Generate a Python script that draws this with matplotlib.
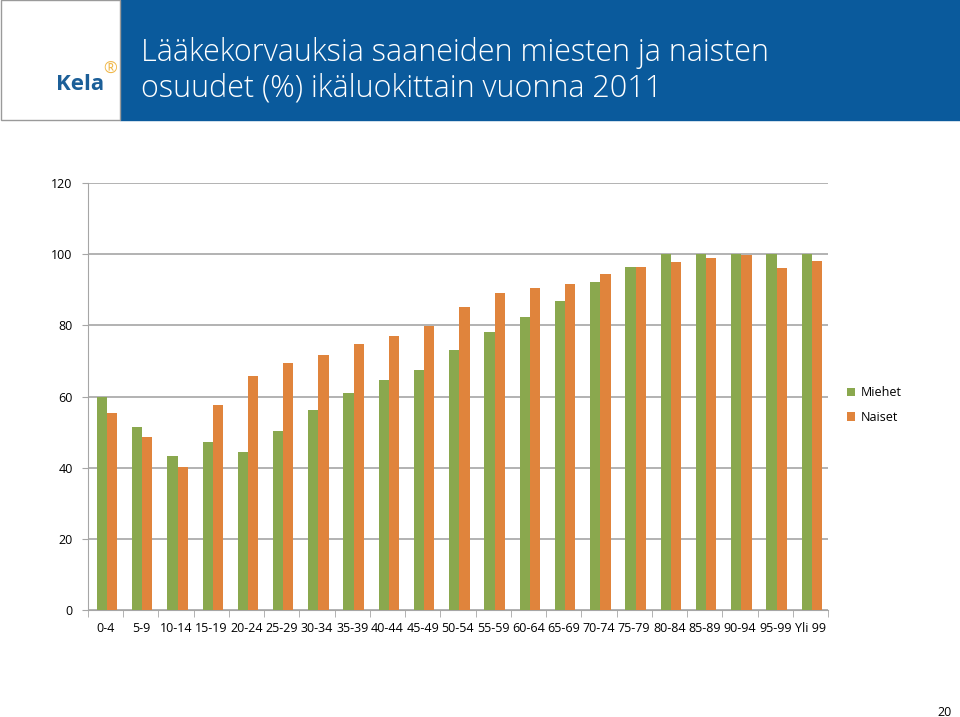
import numpy as np
import matplotlib.pyplot as plt
from matplotlib.patches import Rectangle

# ------------------------------------------------------------
# data
# ------------------------------------------------------------
age_groups = ["0-4", "5-9", "10-14", "15-19", "20-24", "25-29", "30-34",
              "35-39", "40-44", "45-49", "50-54", "55-59", "60-64", "65-69",
              "70-74", "75-79", "80-84", "85-89", "90-94", "95-99", "Yli 99"]
miehet = [60.0, 51.4, 43.2, 47.1, 44.4, 50.3, 56.1, 61.0, 64.7, 67.5, 73.0,
          78.1, 82.4, 86.9, 92.3, 96.4, 100.0, 100.0, 100.0, 100.0, 100.0]
naiset = [55.5, 48.5, 40.3, 57.6, 65.8, 69.5, 71.8, 74.7, 77.0, 79.9, 85.1,
          89.1, 90.4, 91.6, 94.5, 96.4, 97.8, 98.8, 99.8, 96.2, 98.0]
y_ticks = [0, 20, 40, 60, 80, 100, 120]

title_lines = ["Lääkekorvauksia saaneiden miesten ja naisten",
               "osuudet (%) ikäluokittain vuonna 2011"]

green = "#8aa84e"
orange = "#e0843c"
blue = "#0a5a9c"
grid_col = "#a6a6a6"

plt.rcParams["font.family"] = ["Open Sans", "DejaVu Sans"]

fig = plt.figure(figsize=(9.6, 7.17), dpi=100)

# ------------------------------------------------------------
# header
# ------------------------------------------------------------
fig.patches.append(Rectangle((120 / 960, 1 - 120 / 717), 840 / 960, 120 / 717,
                             transform=fig.transFigure, color=blue, zorder=0))
fig.patches.append(Rectangle((0.5 / 960, 1 - 119.5 / 717), 119 / 960, 119 / 717,
                             transform=fig.transFigure, facecolor="white",
                             edgecolor="#9a9a9a", lw=1, zorder=0))
for i, line in enumerate(title_lines):
    fig.text(141 / 960, 1 - (53 + 36 * i) / 717, line, color="white",
             fontsize=22, fontweight="light", va="center", ha="left")

# Kela logo
fig.text(56 / 960, 1 - 84 / 717, "Kela", color="#1c5f98", fontsize=16,
         fontweight="bold", va="center", ha="left")
fig.text(110 / 960, 1 - 70 / 717, "\u00ae", color="#f0b84a", fontsize=12,
         va="center", ha="center")

# page number
fig.text(945 / 960, 1 - 712 / 717, "20", fontsize=9, va="center", ha="center",
         color="black")

# ------------------------------------------------------------
# chart
# ------------------------------------------------------------
ax = fig.add_axes([88 / 960, 107 / 717, 740 / 960, 427 / 717])

x = np.arange(len(age_groups))
w = 0.29
ax.bar(x - w / 2 + 0.04, miehet, width=w, color=green, label="Miehet", zorder=3)
ax.bar(x + w / 2 + 0.04, naiset, width=w, color=orange, label="Naiset", zorder=3)

ax.set_xlim(-0.5, len(age_groups) - 0.5)
ax.set_ylim(0, 120)
ax.set_yticks(y_ticks)
ax.tick_params(axis="y", labelsize=9, length=4, color=grid_col, pad=7)
ax.yaxis.grid(True, color=grid_col, lw=1.2, zorder=0)

ax.set_xticks(x)
ax.set_xticklabels(age_groups, fontsize=9)
ax.tick_params(axis="x", length=0, pad=9)
ax.set_xticks(np.arange(-0.5, len(age_groups)), minor=True)
ax.tick_params(axis="x", which="minor", length=5, color=grid_col)

for side in ["top", "right"]:
    ax.spines[side].set_visible(False)
ax.spines["left"].set_color(grid_col)
ax.spines["bottom"].set_color(grid_col)

ax.legend(loc="center left", bbox_to_anchor=(1.01, 0.48), frameon=False,
          fontsize=9, handlelength=0.7, handleheight=0.7, handletextpad=0.4,
          labelspacing=0.9)

fig.savefig("out.png", dpi=100)
